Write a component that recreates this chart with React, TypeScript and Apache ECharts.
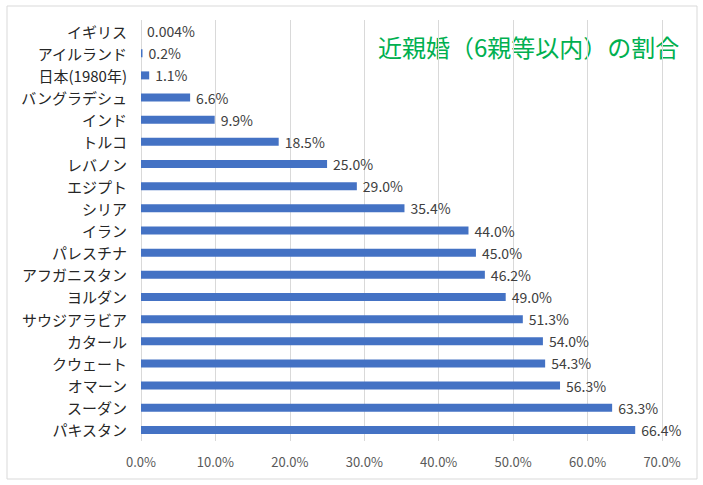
import React, { useEffect, useRef } from 'react';
import * as echarts from 'echarts';

const countries = [
  'イギリス',
  'アイルランド',
  '日本(1980年)',
  'バングラデシュ',
  'インド',
  'トルコ',
  'レバノン',
  'エジプト',
  'シリア',
  'イラン',
  'パレスチナ',
  'アフガニスタン',
  'ヨルダン',
  'サウジアラビア',
  'カタール',
  'クウェート',
  'オマーン',
  'スーダン',
  'パキスタン',
];

const rates = [
  0.004, 0.2, 1.1, 6.6, 9.9, 18.5, 25.0, 29.0, 35.4, 44.0, 45.0, 46.2, 49.0, 51.3, 54.0, 54.3,
  56.3, 63.3, 66.4,
];

const titleText = '近親婚（6親等以内）の割合';

const FONT = '"Noto Sans CJK JP", "Noto Sans", sans-serif';

const App: React.FC = () => {
  const chartRef = useRef<HTMLDivElement>(null);

  useEffect(() => {
    if (!chartRef.current) return;
    const chart = echarts.init(chartRef.current, undefined, { renderer: 'svg' });

    chart.setOption({
      animation: false,
      backgroundColor: '#ffffff',
      textStyle: { fontFamily: FONT },
      grid: { left: 141, right: 41, top: 20, bottom: 44 },
      xAxis: {
        type: 'value',
        min: 0,
        max: 70,
        interval: 10,
        axisLine: { show: false },
        axisTick: { show: false },
        axisLabel: {
          color: '#595959',
          fontSize: 13,
          margin: 14,
          fontFamily: FONT,
          formatter: (v: number) => v.toFixed(1) + '%',
        },
        splitLine: { show: true, lineStyle: { color: '#d9d9d9', width: 1 } },
      },
      yAxis: {
        type: 'category',
        data: countries,
        inverse: true,
        axisLine: { show: false },
        axisTick: { show: false },
        axisLabel: { color: '#262626', fontSize: 15, margin: 14, fontFamily: FONT },
      },
      series: [
        {
          type: 'bar',
          data: rates,
          barWidth: 8,
          itemStyle: { color: '#4472c4' },
          label: {
            show: true,
            position: 'right',
            distance: 6,
            color: '#404040',
            fontSize: 14,
            fontFamily: FONT,
            formatter: (p: any) =>
              p.value < 0.01 ? p.value + '%' : Number(p.value).toFixed(1) + '%',
          },
        },
      ],
      graphic: [
        {
          type: 'rect',
          shape: { x: 7, y: 6, width: 690, height: 473 },
          style: { fill: 'none', stroke: '#d9d9d9', lineWidth: 1 },
          silent: true,
        },
        {
          type: 'text',
          x: 378,
          y: 46,
          style: {
            text: titleText,
            fill: '#00b050',
            fontSize: 24,
            fontFamily: FONT,
            verticalAlign: 'middle',
            align: 'left',
          },
        },
      ],
    });

    return () => {
      chart.dispose();
    };
  }, []);

  return (
    <div
      ref={chartRef}
      style={{ position: 'fixed', left: 0, top: 0, width: '703px', height: '485px' }}
    />
  );
};

export default App;
